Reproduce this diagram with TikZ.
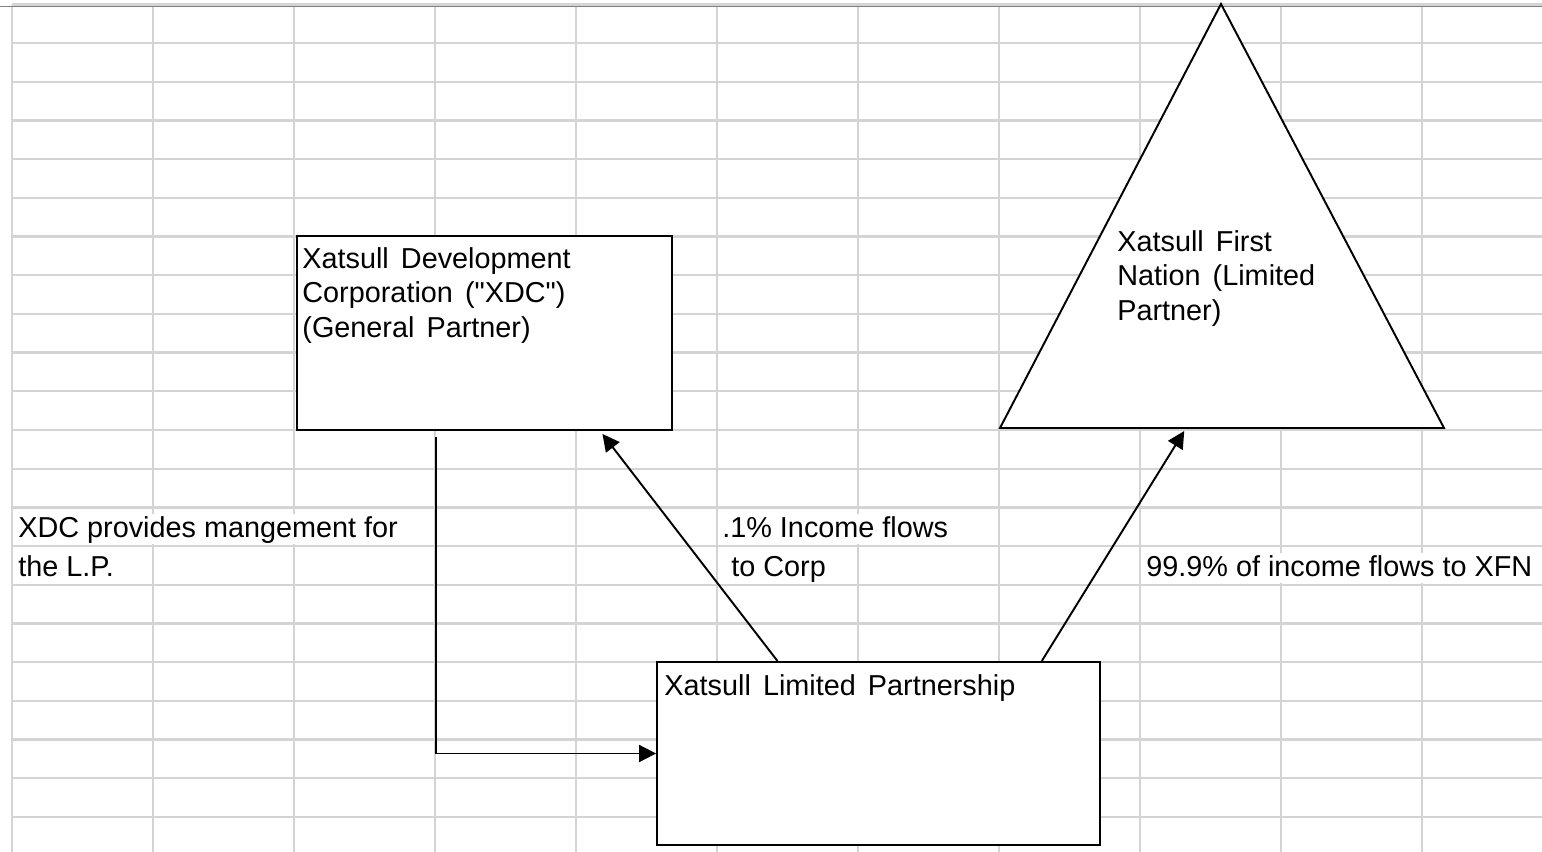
\documentclass[tikz,border=0pt]{standalone}
\usepackage{fontspec}
\setmainfont{Liberation Sans}
\usetikzlibrary{arrows.meta}
\usetikzlibrary{calc}
\definecolor{cellgrid}{RGB}{212,212,212}

\tikzset{
    box/.style={draw=black, fill=white, line width=1.1pt, inner sep=0pt},
    boxtext/.style={anchor=north west, align=left, inner sep=0pt, execute at begin node={\spaceskip=0.42em\relax}},
    celltext/.style={anchor=base west, inner sep=0pt, fill=white, text height=0.46cm, text depth=0.14cm},
    flow/.style={line width=1.1pt, -{Triangle[length=0.34cm, width=0.34cm]}}
}

\begin{document}
\begin{tikzpicture}[x=0.02cm, y=-0.02cm, font=\fontsize{16.4}{19.6}\selectfont]
            \useasboundingbox (0,0) rectangle (1542,852);
            \fill[white] (0,0) rectangle (1542,852);

            % sheet grid
            \foreach \gx in {12,153,...,1422}
                \draw[cellgrid, line width=1.3pt] (\gx,5) -- (\gx,852);
            \foreach \gy in {0,...,20}
                \draw[cellgrid, line width=1.3pt] (12,43+38.7*\gy) -- (1542,43+38.7*\gy);
            \draw[cellgrid, line width=2.5pt] (12,5) -- (1542,5);
            \draw[gray, line width=0.5pt] (0,6) -- (1542,6);

            % partner shapes
            \node[box, minimum width=7.5cm, minimum height=3.88cm] (xdc) at (484.5,333) {};
            \node[box, minimum width=8.86cm, minimum height=3.66cm] (lp) at (878.5,753.5) {};

            \coordinate (xfn top) at (1221,4);
            \coordinate (xfn left) at (1000,428);
            \coordinate (xfn right) at (1444,428);
            \draw[line width=1.1pt, fill=white] (xfn top) -- (xfn right) -- (xfn left) -- cycle;

            \node[boxtext] (xdc text) at ($(xdc.north west)+(6,12)$) {Xatsull Development\\Corporation (\textquotedbl XDC\textquotedbl)\\(General Partner)};
            \node[boxtext] (lp text) at ($(lp.north west)+(8,13)$) {Xatsull Limited Partnership};
            \node[boxtext] (xfn text) at (1117,230) {Xatsull First\\Nation (Limited\\Partner)};

            % flows
            \coordinate (mgmt) at (436,437);
            \coordinate (corp in) at ($(xdc.south west)!0.813!(xdc.south east)+(0,3)$);
            \coordinate (xfn in) at ($(xfn left)!0.415!(xfn right)+(0,3)$);
            \draw[flow] (mgmt) |- (lp.west);
            \draw[flow] ($(lp.north west)!0.273!(lp.north east)$) -- (corp in);
            \draw[flow] ($(lp.north west)!0.867!(lp.north east)$) -- (xfn in);

            % cell notes
            \node[celltext] (mgmt note) at (18,537) {XDC provides mangement for};
            \node[celltext] (mgmt note2) at (18,576) {the L.P.};
            \node[celltext] (corp note) at (722,537) {.1\% Income flows};
            \node[celltext] (corp note2) at (731,576) {to Corp};
            \node[celltext] (xfn note) at (1146,576) {99.9\% of income flows to XFN};
\end{tikzpicture}
\end{document}
